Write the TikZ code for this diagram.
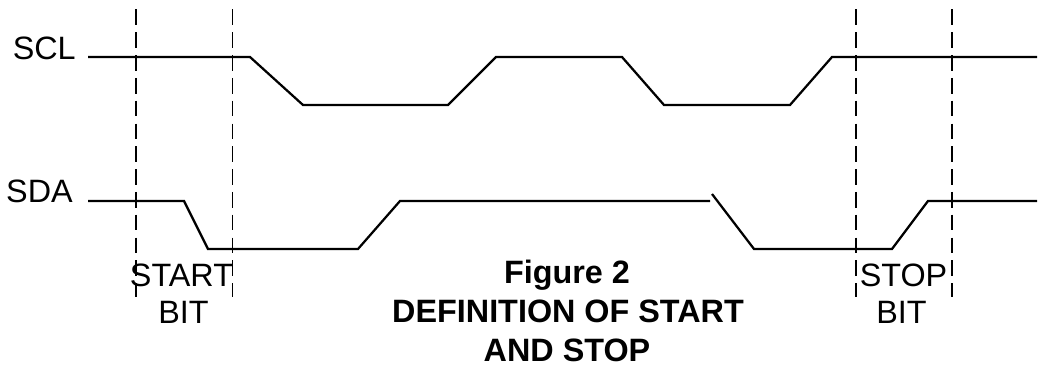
\documentclass[tikz,border=0pt]{standalone}
\usepackage{fontspec}
\setmainfont{Liberation Sans}
\begin{document}
\begin{tikzpicture}[x=0.025cm, y=0.025cm,
  wave/.style={line width=1.6pt, line join=miter},
  guide/.style={line width=1.4pt, dash pattern=on 0.39cm off 0.18cm},
  lbl/.style={inner sep=0pt, font=\fontsize{23}{28}\selectfont},
  title/.style={inner sep=0pt, anchor=base, font=\fontsize{23}{28}\selectfont\bfseries}]

\useasboundingbox (0,0) rectangle (1039,367);

% signal names
\node[lbl, anchor=base east] (scl) at (76,307) {SCL};
\node[lbl, anchor=base east] (sda) at (73,164) {SDA};

% SCL
\draw[wave] (88,310)--(250,310)--(303,262)--(448,262)--(496,310)--(622,310)
  --(664,262)--(790,262)--(832,310)--(1037,310);

% SDA
\draw[wave] (88,166)--(184,166)--(208,118)--(358,118)--(400,166)--(710,166);
\draw[wave] (712,173)--(754,118)--(892,118)--(928,166)--(1037,166);

% start / stop markers
\foreach \x in {136,232.5,856,952}
  \draw[guide] (\x,357.5)--(\x,70);

\node[lbl, anchor=base] (start) at (181.5,80) {START};
\node[lbl, anchor=base] (startbit) at (183.5,43) {BIT};
\node[lbl, anchor=base] (stop) at (903.5,80) {STOP};
\node[lbl, anchor=base] (stopbit) at (901.5,43) {BIT};

\node[title] (fig) at (567,83) {Figure 2};
\node[title] (figdef) at (568,44) {DEFINITION OF START};
\node[title] (figand) at (567,5) {AND STOP};

\end{tikzpicture}
\end{document}
